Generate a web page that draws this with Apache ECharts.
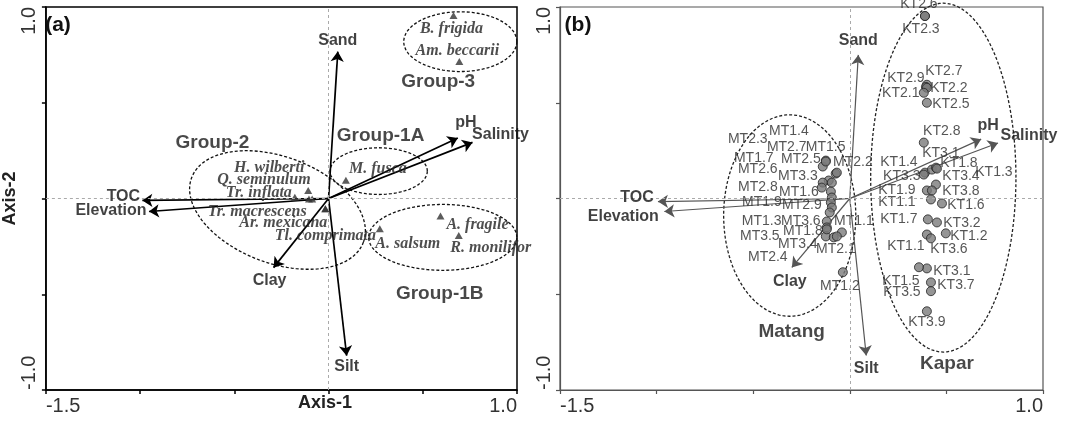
<!DOCTYPE html>
<html><head><meta charset="utf-8">
<script src="https://cdn.jsdelivr.net/npm/echarts@6/dist/echarts.min.js"></script>
<style>html,body{margin:0;padding:0;background:#fff}#c{width:1067px;height:421px}</style>
</head><body><div id="c"></div>
<script>
// ---------------- DATA ----------------
// Environmental vectors (same variables in both panels)
const envNames = ['Sand','Silt','TOC','Elevation','Clay','pH','Salinity'];
const envA_ax1 = [0.049, 0.096, -0.988, -0.953, -0.292, 0.686, 0.764];
const envA_ax2 = [0.767, -0.821, -0.010, -0.068, -0.361, 0.316, 0.293];
const envB_ax1 = [0.044, 0.085, -0.993, -0.960, -0.300, 0.680, 0.767];
const envB_ax2 = [0.750, -0.820, -0.016, -0.068, -0.360, 0.310, 0.290];

// Panel (a): species scores
const speciesNames = ['B. frigida','Am. beccarii','M. fusca','A. fragile','R. monilifor','A. salsum',
  'H. wilberti','Q. seminulum','Tr. inflata','Tr. macrescens','Ar. mexicana','Tl. comprimata'];
const speciesAx1 = [0.663, 0.694, 0.092, 0.594, 0.691, 0.272, -0.108, -0.104, -0.179, -0.087, -0.017, -0.017];
const speciesAx2 = [0.955, 0.715, 0.095, -0.092, -0.193, -0.158, 0.042, -0.002, 0.007, -0.002, -0.054, -0.054];

// Panel (b): site scores
const matangNames = ['MT2.3','MT1.4','MT2.7','MT1.5','MT1.7','MT2.5','MT2.2','MT2.6','MT3.3','MT2.8','MT1.6',
  'MT1.9','MT2.9','MT1.3','MT3.6','MT1.1','MT3.5','MT1.8','MT3.4','MT2.1','MT2.4','MT1.2'];
const matangAx1 = [-0.140,-0.124,-0.109,-0.073,-0.140,-0.124,-0.067,-0.145,-0.093,-0.098,-0.093,
  -0.098,-0.093,-0.104,-0.119,-0.041,-0.119,-0.124,-0.083,-0.067,-0.119,-0.036];
const matangAx2 = [0.167,0.198,0.094,0.130,0.083,0.193,0.135,0.057,0.083,0.036,0.005,
  -0.021,-0.047,-0.073,-0.120,-0.177,-0.151,-0.198,-0.203,-0.198,-0.161,-0.385];

const kaparNames = ['KT2.6','KT2.3','KT2.7','KT2.9','KT2.2','KT2.1','KT2.5','KT2.8','KT1.4','KT3.1','KT1.8',
  'KT3.3','KT3.4','KT1.3','KT1.9','KT3.8','KT1.1','KT1.6','KT1.7','KT3.2','KT1.2','KT1.1','KT3.6','KT3.1',
  'KT1.5','KT3.7','KT3.5','KT3.9'];
const kaparAx1 = [0.389,0.389,0.399,0.394,0.399,0.383,0.399,0.383,0.389,0.425,0.446,
  0.383,0.446,0.451,0.399,0.425,0.420,0.477,0.404,0.451,0.497,0.399,0.420,0.399,
  0.358,0.420,0.420,0.399];
const kaparAx2 = [0.953,0.953,0.594,0.583,0.578,0.552,0.500,0.292,0.135,0.151,0.161,
  0.125,0.073,0.156,0.042,0.042,-0.005,-0.026,-0.109,-0.125,-0.182,-0.188,-0.208,-0.365,
  -0.359,-0.438,-0.484,-0.589];

// Axis ticks
const xMin = -1.5, xMax = 1.0, yMin = -1.0, yMax = 1.0, tickStep = 0.5;
const xTickLabels = {'-1.5': '-1.5', '1': '1.0'};
const yTickLabels = {'-1': '-1.0', '1': '1.0'};

// ---------------- LAYOUT (annotation placement) ----------------
const envA_off = [[0,-11],[0,11],[-19,-4],[-38,-1],[-4,13],[8,-15],[28,-8]];
const envB_off = [[0,-14],[0,13],[-21,-4],[-41,5],[-2,14],[7,-14],[31,-7]];
const speciesOff = [[-2,13],[-2,-11],[32,-11],[37,9],[32,12],[28,15],[-39,-23],[-45,-19],[-36,-4],[-55,13],[-42,14],[0,27]];
const matangOff = [[-75,-27],[-37,-29],[-42,-33],[-10,-26],[-69,-24],[-25,-2],[16,-11],[-64,-18],[-34,-6],[-73,-4],[-33,-5],
  [-69,0],[-30,-2],[-68,9],[-26,0],[12,-11],[-67,9],[-23,-5],[-36,7],[-1,13],[-59,28],[-3,14]];
const kaparOff = [[-6,-12],[-4,13],[17,-14],[-20,-9],[22,0],[-23,0],[24,1],[18,-11],[-26,-11],[9,-16],[23,-5],
  [-22,2],[25,-8],[57,4],[-30,0],[29,1],[-34,3],[24,2],[-29,0],[25,1],[23,3],[-21,12],[18,11],[25,3],
  [-18,14],[25,3],[-29,1],[0,11]];
// group ellipses: [cx, cy, rx, ry, angleDeg]
const ellipsesA = [[0.699,0.819,0.300,0.156,0],[0.266,0.143,0.258,0.122,0],[-0.271,-0.060,0.486,0.278,-20],[0.606,-0.203,0.393,0.172,0]];
const ellipsesB = [[-0.311,-0.089,0.342,0.526,0],[0.484,0.109,0.376,0.911,0]];
const groupNamesA = ['Group-3','Group-1A','Group-2','Group-1B'];
const groupPosA = [[0.582,0.611],[0.276,0.328],[-0.616,0.290],[0.590,-0.500]];
const groupNamesB = ['Matang','Kapar'];
const groupPosB = [[-0.301,-0.698],[0.503,-0.865]];

// ---------------- BUILD ----------------
const SANS = '"Liberation Sans", Arial, sans-serif';
const SERIF = '"Liberation Serif", "Times New Roman", serif';

function pts(names, xs, ys, offs) {
  return names.map((n, i) => ({name: n, value: [xs[i], ys[i]], label: {offset: offs[i]}}));
}
function arrows(xs, ys) {
  return xs.map((x, i) => ({coords: [[0, 0], [x, ys[i]]]}));
}
function ellipseSeries(idx, data, color, width) {
  return {
    type: 'custom', xAxisIndex: idx, yAxisIndex: idx, silent: true, clip: false, z: 1,
    data: data,
    renderItem: function (params, api) {
      const cx = api.value(0), cy = api.value(1), rx = api.value(2), ry = api.value(3);
      const a = api.value(4) * Math.PI / 180;
      const points = [];
      for (let k = 0; k < 120; k++) {
        const t = k / 120 * Math.PI * 2;
        const ex = rx * Math.cos(t), ey = ry * Math.sin(t);
        points.push(api.coord([cx + ex * Math.cos(a) - ey * Math.sin(a), cy + ex * Math.sin(a) + ey * Math.cos(a)]));
      }
      return {type: 'polygon', shape: {points: points},
        style: {fill: 'none', stroke: color, lineWidth: width, lineDash: [3, 2]}};
    }
  };
}
function textSeries(idx, data, font, z) {
  return {
    type: 'scatter', xAxisIndex: idx, yAxisIndex: idx, silent: true, z: z || 5,
    symbol: 'circle', symbolSize: 0.1, itemStyle: {color: 'rgba(0,0,0,0)'},
    data: data,
    label: Object.assign({show: true, position: 'inside', formatter: '{b}'}, font)
  };
}
function zeroLines(idx) {
  return {
    type: 'scatter', xAxisIndex: idx, yAxisIndex: idx, data: [], silent: true, z: 0,
    markLine: {silent: true, symbol: 'none', animation: false, label: {show: false},
      lineStyle: {color: '#aaa', width: 1, type: [3, 3]},
      data: [{xAxis: 0}, {yAxis: 0}]}
  };
}
function xAx(idx, color, w) {
  return {type: 'value', gridIndex: idx, min: xMin, max: xMax, interval: tickStep,
    axisLine: {show: true, onZero: false, lineStyle: {color: color, width: w}},
    axisTick: {show: true, length: 4, lineStyle: {color: color, width: w}},
    splitLine: {show: false},
    axisLabel: {formatter: v => xTickLabels[String(Math.round(v * 10) / 10)] || '',
      fontFamily: SANS, fontSize: 20, color: '#333', margin: 6,
      alignMinLabel: 'left', alignMaxLabel: 'right', showMinLabel: true, showMaxLabel: true}};
}
function yAx(idx, color, w, name) {
  return {type: 'value', gridIndex: idx, min: yMin, max: yMax, interval: tickStep,
    name: name || '', nameLocation: 'middle', nameGap: 8,
    nameTextStyle: {fontFamily: SANS, fontSize: 18, fontWeight: 'bold', color: '#222'},
    axisLine: {show: true, onZero: false, lineStyle: {color: color, width: w}},
    axisTick: {show: true, length: 4, lineStyle: {color: color, width: w}},
    splitLine: {show: false},
    axisLabel: {formatter: v => yTickLabels[String(Math.round(v * 10) / 10)] || '',
      rotate: 90, fontFamily: SANS, fontSize: 20, color: '#333', margin: 6,
      alignMinLabel: 'left', alignMaxLabel: 'right', showMinLabel: true, showMaxLabel: true}};
}

const envFont = {fontFamily: SANS, fontSize: 16, fontWeight: 'bold', color: '#111'};
const groupFont = {fontFamily: SANS, fontSize: 19, fontWeight: 'bold', color: '#1a1a1a'};
const speciesFont = {fontFamily: SERIF, fontSize: 16, fontWeight: 'bold', fontStyle: 'italic', color: '#222'};
const siteFont = {fontFamily: SANS, fontSize: 14, color: '#2a2a2a'};

const option = {
  animation: false,
  backgroundColor: '#fff',
  grid: [
    {left: 37, top: 7, width: 480, height: 383, show: true, borderColor: '#000', borderWidth: 1.5},
    {left: 560, top: 7, width: 483, height: 383, show: true, borderColor: '#555', borderWidth: 1.2}
  ],
  xAxis: [xAx(0, '#000', 1.5), xAx(1, '#555', 1.2)],
  yAxis: [yAx(0, '#000', 1.5, 'Axis-2'), yAx(1, '#555', 1.2, '')],
  graphic: [
    {type: 'text', x: 58, y: 25, style: {text: '(a)', font: 'bold 21px ' + SANS, fill: '#111', align: 'center', verticalAlign: 'middle', textAlign: 'center', textVerticalAlign: 'middle'}},
    {type: 'text', x: 578, y: 25, style: {text: '(b)', font: 'bold 21px ' + SANS, fill: '#111', align: 'center', verticalAlign: 'middle', textAlign: 'center', textVerticalAlign: 'middle'}},
    {type: 'text', x: 325, y: 403, style: {text: 'Axis-1', font: 'bold 18px ' + SANS, fill: '#222', align: 'center', verticalAlign: 'middle', textAlign: 'center', textVerticalAlign: 'middle'}}
  ],
  series: [
    zeroLines(0), zeroLines(1),
    ellipseSeries(0, ellipsesA, '#111', 1.3),
    ellipseSeries(1, ellipsesB, '#222', 1.3),
    {type: 'lines', coordinateSystem: 'cartesian2d', xAxisIndex: 0, yAxisIndex: 0, silent: true, z: 3,
      symbol: ['none', 'arrow'], symbolSize: [7, 10],
      lineStyle: {color: '#000', width: 1.7, opacity: 1, curveness: 0},
      data: arrows(envA_ax1, envA_ax2)},
    {type: 'lines', coordinateSystem: 'cartesian2d', xAxisIndex: 1, yAxisIndex: 1, silent: true, z: 3,
      symbol: ['none', 'arrow'], symbolSize: [7, 10],
      lineStyle: {color: '#555', width: 1.2, opacity: 1, curveness: 0},
      data: arrows(envB_ax1, envB_ax2)},
    textSeries(0, pts(envNames, envA_ax1, envA_ax2, envA_off), envFont, 6),
    textSeries(1, pts(envNames, envB_ax1, envB_ax2, envB_off), envFont, 6),
    {type: 'scatter', xAxisIndex: 0, yAxisIndex: 0, silent: true, z: 4,
      symbol: 'triangle', symbolSize: [8, 7], itemStyle: {color: '#333'},
      data: pts(speciesNames, speciesAx1, speciesAx2, speciesOff),
      label: Object.assign({show: true, position: 'inside', formatter: '{b}'}, speciesFont)},
    {type: 'scatter', xAxisIndex: 1, yAxisIndex: 1, silent: true, z: 4,
      symbol: 'circle', symbolSize: 9, itemStyle: {color: '#7a7a7a', borderColor: '#222', borderWidth: 1},
      data: pts(matangNames, matangAx1, matangAx2, matangOff),
      label: Object.assign({show: true, position: 'inside', formatter: '{b}'}, siteFont)},
    {type: 'scatter', xAxisIndex: 1, yAxisIndex: 1, silent: true, z: 4,
      symbol: 'circle', symbolSize: 9, itemStyle: {color: '#7a7a7a', borderColor: '#222', borderWidth: 1},
      data: pts(kaparNames, kaparAx1, kaparAx2, kaparOff),
      label: Object.assign({show: true, position: 'inside', formatter: '{b}'}, siteFont)},
    textSeries(0, groupNamesA.map((n, i) => ({name: n, value: groupPosA[i]})), groupFont, 6),
    textSeries(1, groupNamesB.map((n, i) => ({name: n, value: groupPosB[i]})), groupFont, 6)
  ]
};
const chart = echarts.init(document.getElementById('c'), null, {renderer: 'canvas'});
chart.setOption(option);
</script>
</body></html>
